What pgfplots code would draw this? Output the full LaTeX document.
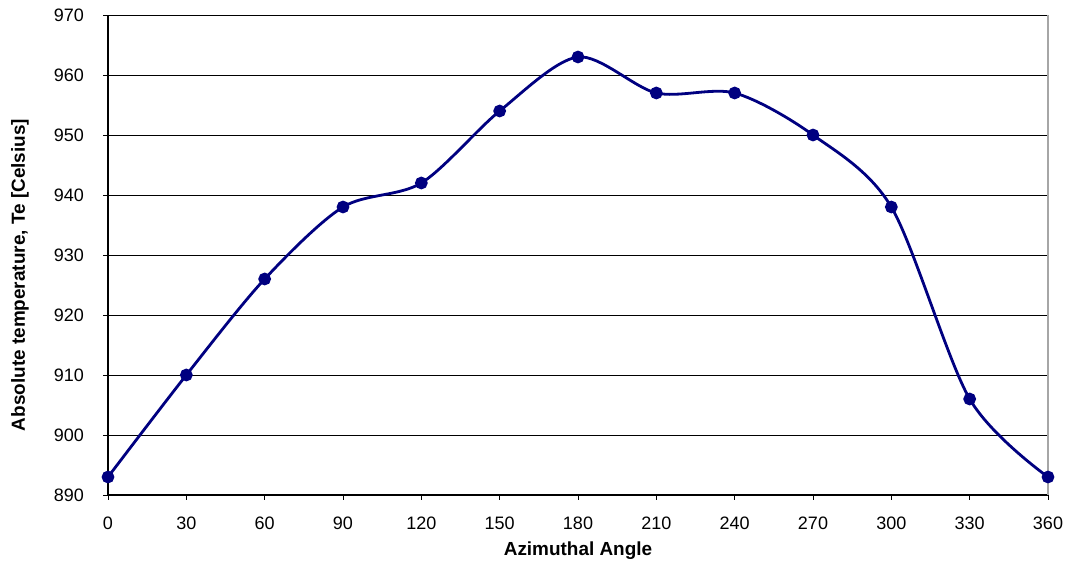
\documentclass[border=0pt]{standalone}
\usepackage{pgfplots}
\pgfplotsset{compat=1.18}
\usepackage{fontspec}
\setmainfont{Liberation Sans}
\definecolor{navy}{RGB}{0,0,128}
\begin{document}
\begin{tikzpicture}
% picture 1071x567 px, 1 px = 0.75 pt; axis box 940x480 px
\useasboundingbox (-81pt,-54pt) rectangle (722.25pt,371.25pt);
\begin{axis}[
  at={(0,0)}, anchor=south west,
  scale only axis,
  width=705pt, height=360pt,
  xmin=0, xmax=360,
  ymin=890, ymax=970,
  xtick={0,30,...,360},
  ytick={890,900,...,970},
  axis x line*=bottom,
  axis y line*=left,
  ymajorgrids,
  grid style={black, line width=0.7pt},
  tick align=outside,
  tick style={black, line width=0.7pt},
  major tick length=3.5pt,
  axis line style={line width=0.8pt},
  tick label style={font=\fontsize{13.5}{15}\selectfont},
  xticklabel style={anchor=center, yshift=-18pt},
  yticklabel style={anchor=east, xshift=-11pt},
  label style={font=\fontsize{14.2}{16}\selectfont\bfseries},
  xlabel={Azimuthal Angle},
  ylabel={Absolute temperature, Te [Celsius]},
  xlabel style={at={(rel axis cs:0.5,0)}, anchor=center, yshift=-42pt},
  ylabel style={at={(rel axis cs:0,0.5)}, anchor=center, yshift=66pt, xshift=-15pt},
  /pgf/number format/assume math mode=true,
  clip=false,
]
\addplot[navy, line width=2.1pt, smooth, tension=0.5, mark=*, mark size=3.7pt, mark options={fill=navy}] coordinates {
  (0,893) (30,910) (60,926) (90,938) (120,942) (150,954) (180,963)
  (210,957) (240,957) (270,950) (300,938) (330,906) (360,893)
};
\draw[gray!70, line width=1pt] (rel axis cs:1,0) -- (rel axis cs:1,1);
\end{axis}
\end{tikzpicture}
\end{document}
